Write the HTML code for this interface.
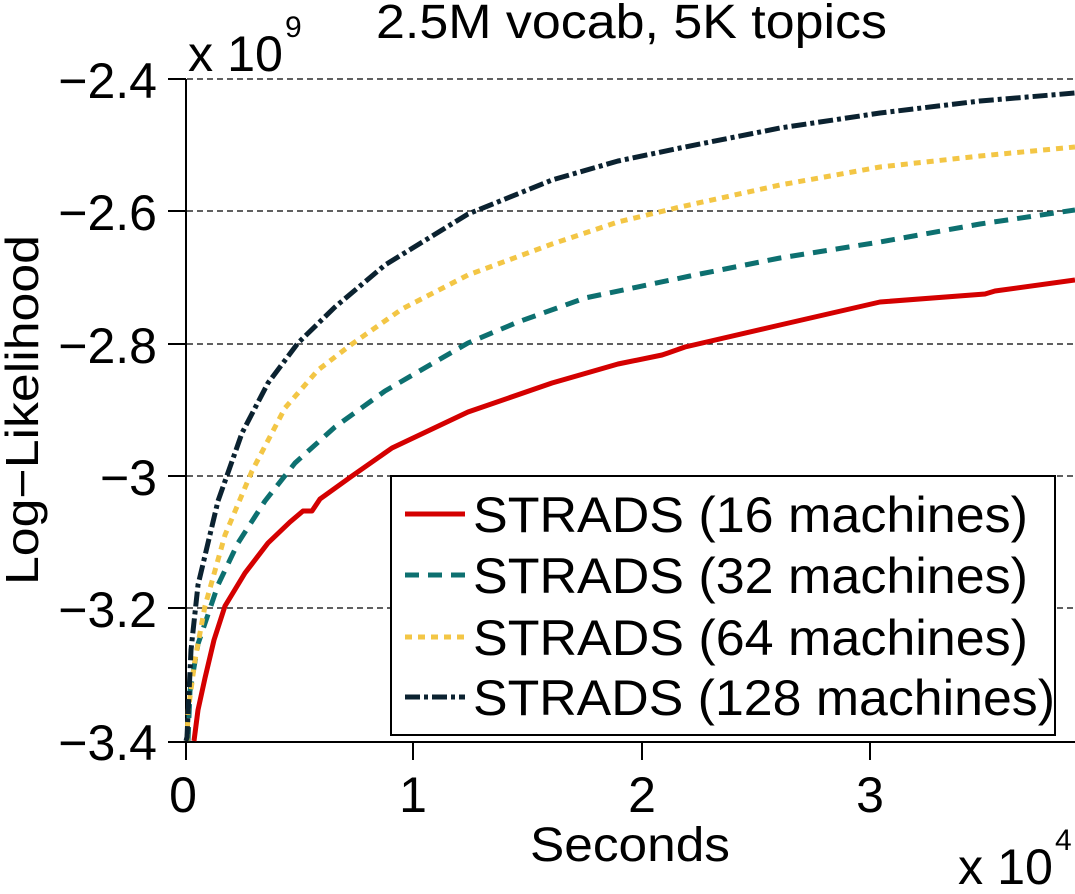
<!DOCTYPE html>
<html><head><style>
html,body{margin:0;padding:0;background:#fff;}
svg text{font-family:"Liberation Sans","DejaVu Sans",sans-serif;fill:#000;}
</style></head><body>
<svg width="1075" height="889" viewBox="0 0 1075 889" xmlns="http://www.w3.org/2000/svg">
<rect width="1075" height="889" fill="#fff"/>
<g stroke="#000" stroke-width="1.3" stroke-dasharray="6,4">
<line x1="187" y1="79" x2="1075" y2="79"/>
<line x1="187" y1="211" x2="1075" y2="211"/>
<line x1="187" y1="344" x2="1075" y2="344"/>
<line x1="187" y1="476" x2="1075" y2="476"/>
<line x1="187" y1="608" x2="1075" y2="608"/>
</g>
<line x1="186" y1="79" x2="186" y2="742" stroke="#000" stroke-width="2"/>
<line x1="168" y1="742" x2="1075" y2="742" stroke="#000" stroke-width="2"/>
<g stroke="#000" stroke-width="2">
<line x1="168" y1="79" x2="186" y2="79"/><line x1="168" y1="211" x2="186" y2="211"/>
<line x1="168" y1="344" x2="186" y2="344"/><line x1="168" y1="476" x2="186" y2="476"/>
<line x1="168" y1="608" x2="186" y2="608"/>
<line x1="186" y1="742" x2="186" y2="760"/>
<line x1="413" y1="742" x2="413" y2="760"/><line x1="642" y1="742" x2="642" y2="760"/>
<line x1="870" y1="742" x2="870" y2="760"/>
</g>
<g font-size="50" text-anchor="end">
<text x="157" y="98">−2.4</text><text x="157" y="230">−2.6</text>
<text x="157" y="363">−2.8</text><text x="157" y="495">−3</text>
<text x="157" y="627">−3.2</text><text x="157" y="760">−3.4</text>
</g>
<g font-size="50" text-anchor="middle">
<text x="183" y="812">0</text><text x="413" y="812">1</text>
<text x="642" y="812">2</text><text x="870" y="812">3</text>
</g>
<text x="530" y="861" font-size="48" textLength="200" lengthAdjust="spacingAndGlyphs">Seconds</text>
<text x="376" y="38" font-size="48" textLength="511" lengthAdjust="spacingAndGlyphs">2.5M vocab, 5K topics</text>
<text x="188" y="71" font-size="50" textLength="95" lengthAdjust="spacingAndGlyphs">x 10</text><text x="285" y="37" font-size="30">9</text>
<text x="958" y="884" font-size="50" textLength="95" lengthAdjust="spacingAndGlyphs">x 10</text><text x="1055" y="850" font-size="30">4</text>
<text transform="translate(38,410) rotate(-90)" font-size="46" text-anchor="middle" textLength="350" lengthAdjust="spacingAndGlyphs">Log−Likelihood</text>
<g fill="none" stroke-width="5" stroke-linejoin="round">
<polyline stroke="#d40000" points="194,741 198,710 205,678 214,640 225,606 245,573 268,543 290,522 303,511 312,511 320,499 352,476 392,448 468,412 552,383 618,364 662,355 668,353 685,347 780,325 880,302 985,294 995,291 1075,280"/>
<polyline stroke="#0d7070" stroke-dasharray="14,9" points="188,741 190,691 198,644 218,585 238,543 265,501 295,463 335,427 385,391 435,362 468,343 518,322 585,298 690,276 780,258 880,242 980,224 1075,210"/>
<polyline stroke="#f3c645" stroke-dasharray="7,6" points="187,741 188,712 195,660 205,606 225,535 252,471 285,408 318,370 352,344 402,309 468,275 552,244 618,222 680,207 780,185 880,167 980,156 1075,147"/>
<polyline stroke="#0b2230" stroke-dasharray="15,4,4,4" points="186,741 187,737 191,650 198,585 218,501 242,433 268,383 298,343 335,307 385,265 468,214 552,180 618,161 680,148 780,128 880,113 980,101 1075,93"/>
</g>
<rect x="391" y="476" width="664" height="259" fill="#fff" stroke="#000" stroke-width="2"/>
<g stroke-width="5">
<line x1="405" y1="514" x2="465" y2="514" stroke="#d40000"/>
<line x1="405" y1="575" x2="465" y2="575" stroke="#0d7070" stroke-dasharray="14,9"/>
<line x1="405" y1="637" x2="465" y2="637" stroke="#f3c645" stroke-dasharray="7,6"/>
<line x1="405" y1="697" x2="465" y2="697" stroke="#0b2230" stroke-dasharray="15,4,4,4"/>
</g>
<g font-size="50">
<text x="473" y="532" textLength="555" lengthAdjust="spacingAndGlyphs">STRADS (16 machines)</text>
<text x="473" y="593" textLength="555" lengthAdjust="spacingAndGlyphs">STRADS (32 machines)</text>
<text x="473" y="655" textLength="555" lengthAdjust="spacingAndGlyphs">STRADS (64 machines)</text>
<text x="473" y="715" textLength="582" lengthAdjust="spacingAndGlyphs">STRADS (128 machines)</text>
</g>
</svg>
</body></html>
